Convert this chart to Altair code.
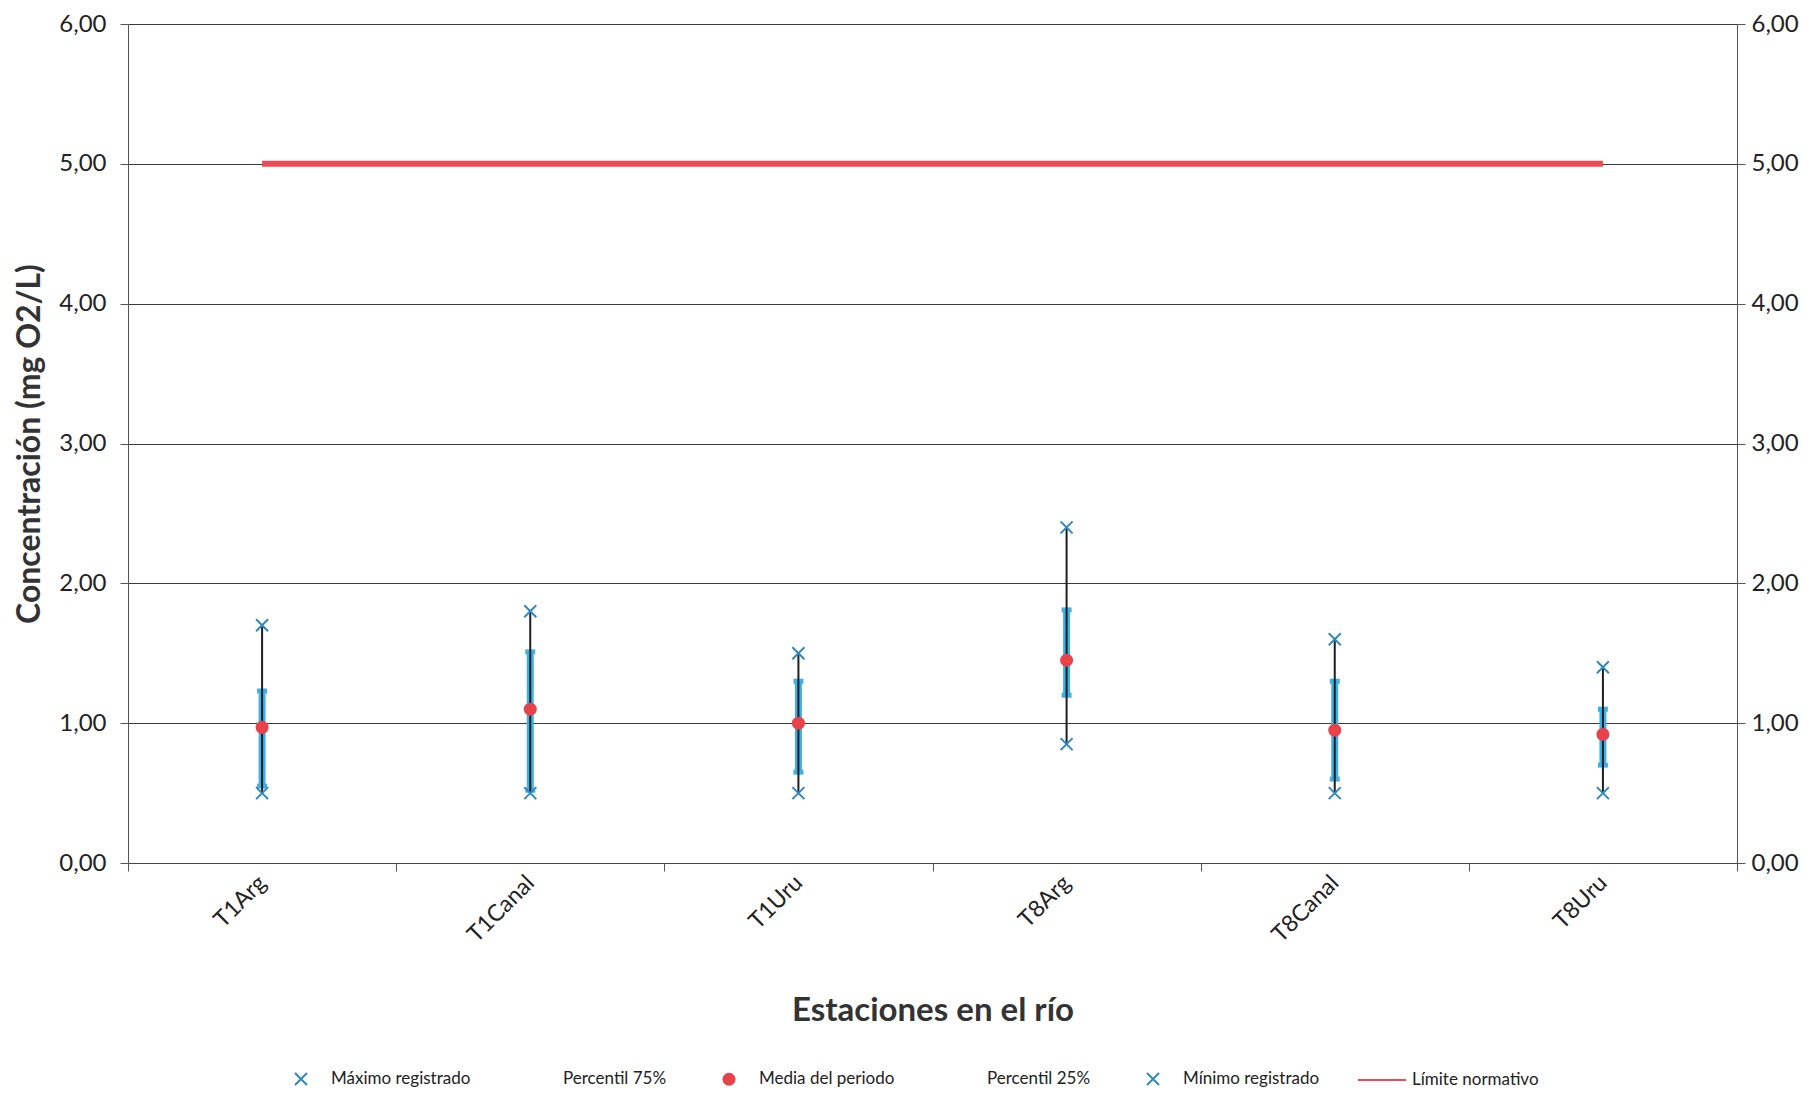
import altair as alt
import pandas as pd

# ---- data ----
estaciones = ["T1Arg", "T1Canal", "T1Uru", "T8Arg", "T8Canal", "T8Uru"]
maximo = [1.70, 1.80, 1.50, 2.40, 1.60, 1.40]
p75 = [1.23, 1.51, 1.30, 1.81, 1.30, 1.10]
media = [0.97, 1.10, 1.00, 1.45, 0.95, 0.92]
p25 = [0.55, 0.52, 0.65, 1.20, 0.60, 0.70]
minimo = [0.50, 0.50, 0.50, 0.85, 0.50, 0.50]
limite = [5.00, 5.00, 5.00, 5.00, 5.00, 5.00]
y_ticks = [0, 1, 2, 3, 4, 5, 6]

series = ["Máximo registrado", "Percentil 75%", "Media del periodo",
          "Percentil 25%", "Mínimo registrado", "Límite normativo"]

df = pd.DataFrame({
    "Estación": estaciones,
    "Máximo registrado": maximo,
    "Percentil 75%": p75,
    "Media del periodo": media,
    "Percentil 25%": p25,
    "Mínimo registrado": minimo,
})
lim = pd.DataFrame({"Estación": estaciones, "Límite normativo": limite})

# ---- styles ----
FONT = "Lato"
BLUE_X = "#2f89bd"
BLUE_BAR = "#3fb0e6"
RED_DOT = "#e8434b"
RED_LINE = "#ee4a56"

X_SHAPE = "M-1,0L-1,0M1,0L1,0M-0.25,-0.25L0.25,0.25M0.25,-0.25L-0.25,0.25"
DOT_SHAPE = "M-1,0L-1,0M1,0L1,0M-0.23,0A0.23,0.23 0 1,0 0.23,0A0.23,0.23 0 1,0 -0.23,0Z"
LINE_SHAPE = "M-1,0L1,0"
shape_range = [X_SHAPE, X_SHAPE, DOT_SHAPE, X_SHAPE, X_SHAPE, LINE_SHAPE]
color_range = [BLUE_X, "transparent", RED_DOT, "transparent", BLUE_X, RED_LINE]

label_expr = "replace(format(datum.value, '.2f'), '.', ',')"
yscale = alt.Scale(domain=[0, 6], nice=False, zero=True)

y_axis_left = alt.Axis(
    values=y_ticks, labelExpr=label_expr, title="Concentración (mg O2/L)",
    titleFont=FONT, titleFontSize=32, titleFontWeight="bold", titleColor="#333333",
    labelFont=FONT, labelFontSize=24, labelColor="#222222", labelPadding=14,
    grid=True, gridColor="#3a3a3a", gridWidth=1,
    domainColor="#555555", tickColor="#555555", tickSize=8, titlePadding=12,
)
y_axis_right = alt.Axis(
    orient="right", values=y_ticks, labelExpr=label_expr, title=None,
    labelFont=FONT, labelFontSize=24, labelColor="#222222", labelPadding=6,
    grid=False, domainColor="#555555", tickColor="#555555", tickSize=8,
)
x_enc = alt.X(
    "Estación:N", sort=estaciones,
    scale=alt.Scale(paddingInner=0, paddingOuter=0),
    axis=alt.Axis(
        title="Estaciones en el río", titleFont=FONT, titleFontSize=33,
        titleFontWeight="bold", titleColor="#333333", titlePadding=48,
        labelAngle=-45, labelAlign="right", labelBaseline="middle",
        labelFont=FONT, labelFontSize=23, labelColor="#222222", labelPadding=8,
        tickBand="extent", tickSize=8, tickColor="#555555", domainColor="#444444",
        grid=False,
    ),
)

legend = alt.Legend(
    title=None, orient="none", legendX=148, legendY=1030, direction="horizontal",
    symbolSize=2304, symbolStrokeWidth=2, labelFont=FONT, labelFontSize=17,
    labelColor="#222222", labelOffset=5, columnPadding=34, padding=0,
)

base = alt.Chart(df)

blue_bar = base.mark_rule(color=BLUE_BAR, strokeWidth=7).encode(
    x=x_enc,
    y=alt.Y("Percentil 25%:Q", scale=yscale, axis=y_axis_left),
    y2="Percentil 75%:Q",
)
caps = base.transform_fold(
    ["Percentil 75%", "Percentil 25%"], as_=["Serie", "Valor"]
).mark_tick(color=BLUE_BAR, size=10, thickness=5, opacity=1).encode(
    x=x_enc,
    y=alt.Y("Valor:Q", scale=yscale, axis=y_axis_left),
)
black = base.mark_rule(color="#1e1e1e", strokeWidth=2).encode(
    x=x_enc,
    y=alt.Y("Mínimo registrado:Q", scale=yscale, axis=y_axis_left),
    y2="Máximo registrado:Q",
)
points = base.transform_fold(
    series[:5], as_=["Serie", "Valor"]
).mark_point(filled=True, size=2304, strokeWidth=2, opacity=1).encode(
    x=x_enc,
    y=alt.Y("Valor:Q", scale=yscale, axis=y_axis_left),
    color=alt.Color("Serie:N", scale=alt.Scale(domain=series, range=color_range), legend=legend),
    stroke=alt.Stroke("Serie:N", scale=alt.Scale(domain=series, range=color_range), legend=legend),
    shape=alt.Shape("Serie:N", scale=alt.Scale(domain=series, range=shape_range), legend=legend),
)

inner = alt.layer(blue_bar, caps, black, points)

limit_line = alt.Chart(lim).mark_line(color=RED_LINE, strokeWidth=6).encode(
    x=x_enc,
    y=alt.Y("Límite normativo:Q", scale=yscale, axis=y_axis_right),
)

chart = alt.layer(inner, limit_line).resolve_scale(y="independent").properties(
    width=1609, height=839,
    autosize=alt.AutoSizeParams(type="none"),
    padding={"left": 120, "top": 16, "right": 69, "bottom": 225},
).configure_view(stroke=None).configure(font=FONT)

chart.save("out.html", embed_options={"renderer": "svg", "actions": False})
